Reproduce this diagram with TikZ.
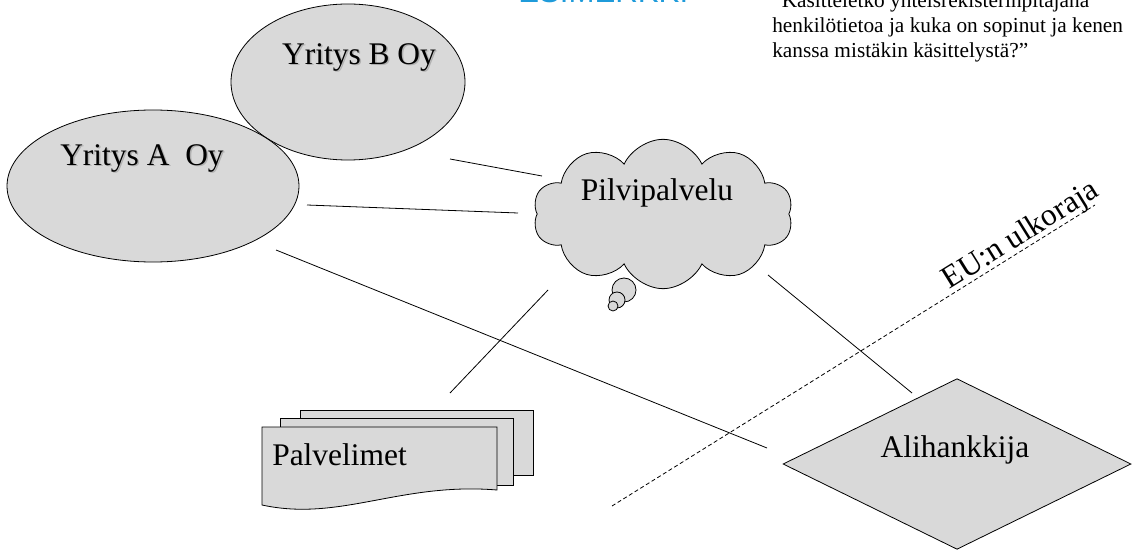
\documentclass[tikz,border=0pt]{standalone}
\usepackage{fontspec}
\setmainfont{Liberation Serif}
\newfontfamily\headfont{Liberation Sans}
\usetikzlibrary{shapes.geometric,shapes.symbols}
\definecolor{shapegray}{HTML}{D9D9D9}
\definecolor{headblue}{HTML}{1F9BDA}

\begin{document}
\begin{tikzpicture}[x=0.75pt,y=-0.75pt,
  shapefill/.style={draw=black, fill=shapegray, line width=0.6pt},
  bigtext/.style={font=\fontsize{23.6}{28}\selectfont, inner sep=0pt},
  shadowtext/.style={bigtext, text=black, opacity=0.18},
  link/.style={draw=black, line width=0.6pt},
  border/.style={draw=black, line width=0.6pt, dash pattern=on 3pt off 2pt},
]
\path[use as bounding box, clip] (0,0) rectangle (1137,552);

% heading and question, partly above the page edge
\node[anchor=base west, inner sep=0, text=headblue,
      font=\headfont\fontsize{23.4}{28}\selectfont] (head) at (518,3) {ESIMERKKI};
\node[anchor=base west, inner sep=0, align=left,
      font=\fontsize{16}{18.75}\selectfont] (question) at (772,58)
  {”Käsitteletkö yhteisrekisterinpitäjänä\\
   henkilötietoa ja kuka on sopinut ja kenen\\
   kanssa mistäkin käsittelystä?”};

% companies
\node[shapefill, ellipse, minimum width=175.5pt, minimum height=117pt, inner sep=0] (firmB) at (348,82) {};
\node[shadowtext] at (360.5,58.5) {Yritys B Oy};
\node[bigtext] (firmBlabel) at (359,57) {Yritys B Oy};
\node[shapefill, ellipse, minimum width=219pt, minimum height=114pt, inner sep=0] (firmA) at (153,186) {};
\node[shadowtext] at (143.5,159.5) {Yritys A\ \ Oy};
\node[bigtext] (firmAlabel) at (142,158) {Yritys A\ \ Oy};

% cloud service with thought bubbles
\draw[shapefill] (624,290) circle[radius=12];
\draw[shapefill] (617,300) circle[radius=8];
\draw[shapefill] (613,306) circle[radius=5];
\node[shapefill, cloud, cloud puffs=10, cloud puff arc=130, aspect=1.9,
      minimum width=195pt, minimum height=112pt, inner sep=0] (cloud) at (663,214) {};
\node[bigtext] (cloudlabel) at (657,193) {Pilvipalvelu};

% servers: stacked documents
\draw[shapefill] (300,410) rectangle (533,475);
\draw[shapefill] (280,418) rectangle (513,485);
\draw[shapefill] (262,427) -- (497,427) -- (497,490)
  .. controls (400,482) and (340,522) .. (262,505) -- cycle;
\node[bigtext, anchor=west] (servers) at (272,455) {Palvelimet};

% subcontractor
\node[shapefill, diamond, minimum width=261pt, minimum height=128pt, inner sep=0] (sub) at (957,464) {};
\node[bigtext] (sublabel) at (955,450) {Alihankkija};

% EU border
\coordinate (eu1) at (612,506);
\coordinate (eu2) at (1095,205);
\draw[border] (eu1) -- (eu2);
\node[bigtext, rotate=31.9] (eulabel) at (1021,236) {EU:n ulkoraja};

% connectors
\coordinate (b1) at (450,159);   \coordinate (c1) at (542,176);
\coordinate (a1) at (307,205);   \coordinate (c2) at (518,213);
\coordinate (a2) at (276,250);   \coordinate (s1) at (767,448);
\coordinate (c3) at (548,290);   \coordinate (p1) at (450,393);
\coordinate (c4) at (768,275);   \coordinate (s2) at (912,393);
\draw[link] (b1) -- (c1);
\draw[link] (a1) -- (c2);
\draw[link] (a2) -- (s1);
\draw[link] (c3) -- (p1);
\draw[link] (c4) -- (s2);
\end{tikzpicture}
\end{document}
